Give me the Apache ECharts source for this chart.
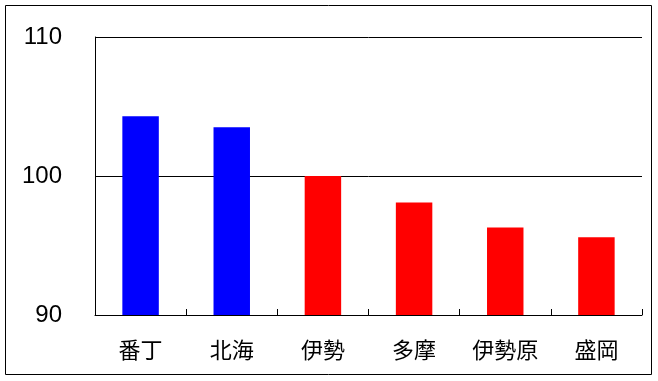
<!DOCTYPE html>
<html>
<head>
<meta charset="utf-8">
<script src="https://cdn.jsdelivr.net/npm/echarts@6/dist/echarts.min.js"></script>
<style>
html,body{margin:0;padding:0;background:#fff;}
#c{width:658px;height:381px;}
</style>
</head>
<body>
<div id="c"></div>
<script>
var categories = ['番丁', '北海', '伊勢', '多摩', '伊勢原', '盛岡'];
var values = [104.3, 103.5, 100.0, 98.1, 96.3, 95.6];
var groups = ['blue', 'blue', 'red', 'red', 'red', 'red'];
var yTicks = [90, 100, 110];

var groupColor = { blue: '#0000FF', red: '#FF0000' };

var chart = echarts.init(document.getElementById('c'), null, { renderer: 'canvas' });
chart.setOption({
  animation: false,
  backgroundColor: '#ffffff',
  graphic: [{
    type: 'rect',
    shape: { x: 5.5, y: 5.5, width: 646, height: 369 },
    style: { fill: 'none', stroke: '#000', lineWidth: 1 },
    silent: true,
    z: 100
  }],
  grid: { left: 95, top: 37, right: 16, bottom: 66, containLabel: false },
  xAxis: {
    type: 'category',
    data: categories,
    axisLine: { show: true, lineStyle: { color: '#000', width: 1 } },
    axisTick: { show: true, inside: true, length: 6, lineStyle: { color: '#000', width: 1 } },
    axisLabel: {
      color: '#000',
      fontFamily: '"Noto Sans CJK JP", sans-serif',
      fontSize: 22,
      margin: 24
    },
    splitLine: { show: false }
  },
  yAxis: {
    type: 'value',
    min: yTicks[0],
    max: yTicks[yTicks.length - 1],
    interval: 10,
    axisLine: { show: true, lineStyle: { color: '#000', width: 1 } },
    axisTick: { show: false },
    axisLabel: {
      color: '#000',
      fontFamily: '"Liberation Sans", Arial, sans-serif',
      fontSize: 24,
      margin: 33,
      padding: [5, 0, 0, 0]
    },
    splitLine: { show: true, lineStyle: { color: '#000', width: 1 } }
  },
  series: [{
    type: 'bar',
    barWidth: '40%',
    data: values.map(function (v, i) {
      return { value: v, itemStyle: { color: groupColor[groups[i]] } };
    })
  }]
});
</script>
</body>
</html>
